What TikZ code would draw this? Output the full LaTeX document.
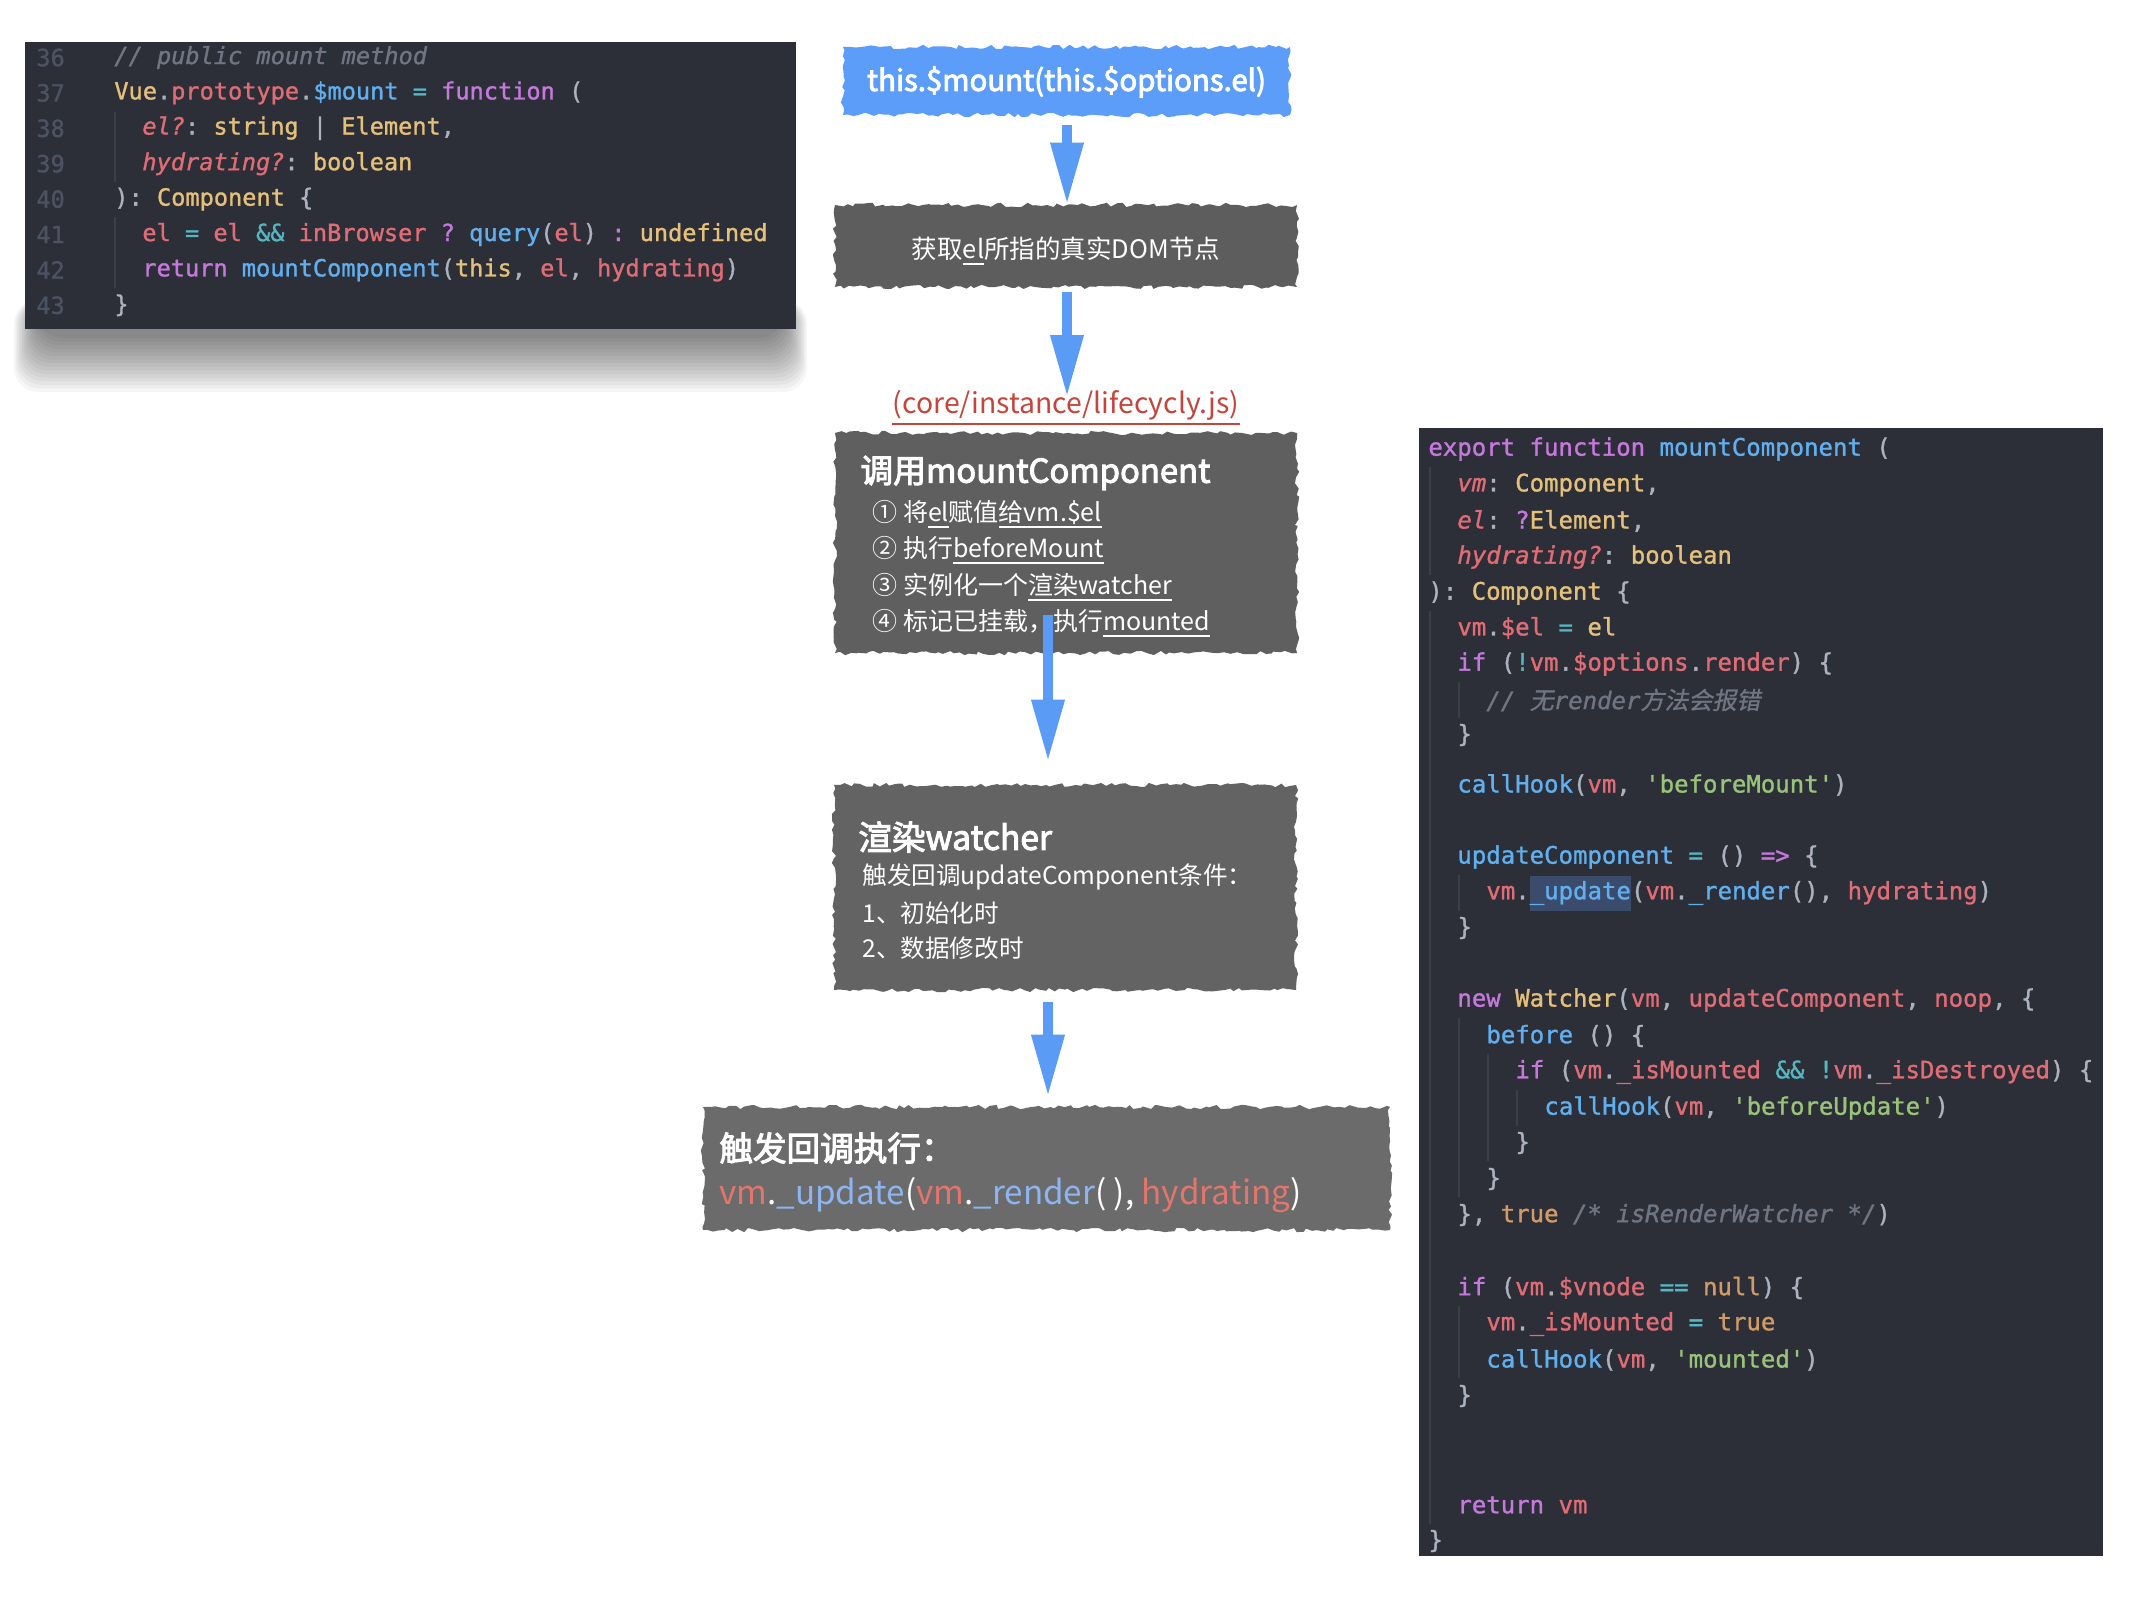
\documentclass[tikz,border=0pt]{standalone}
\usepackage{fontspec}
\usetikzlibrary{arrows.meta,decorations.pathmorphing}
\setmainfont{Noto Sans CJK SC}
\setmonofont{DejaVu Sans Mono}[FakeBold=1.2]
\newfontfamily\cjkit{Noto Sans CJK SC}[FakeSlant=0.2,FakeBold=1]
\newfontfamily\cjkmed{Noto Sans CJK SC}[FakeBold=3]
\definecolor{cbg}{HTML}{2C2F37}
\definecolor{ckwc}{HTML}{C678DD}
\definecolor{cfnc}{HTML}{61AFEF}
\definecolor{cvarc}{HTML}{E06C75}
\definecolor{ctyc}{HTML}{E5C07B}
\definecolor{cnumc}{HTML}{D19A66}
\definecolor{cstrc}{HTML}{98C379}
\definecolor{copc}{HTML}{56B6C2}
\definecolor{ccmc}{HTML}{6F7683}
\definecolor{cplc}{HTML}{ABB2BF}
\definecolor{clnc}{HTML}{4B5363}
\definecolor{cguide}{HTML}{3B4048}
\definecolor{csel}{HTML}{3A4B6C}
\definecolor{flowblue}{HTML}{5A9BF6}
\definecolor{boxblue}{HTML}{5B9DF9}
\definecolor{gboxa}{HTML}{5D5D5D}
\definecolor{gboxb}{HTML}{5F5F5F}
\definecolor{gboxc}{HTML}{636363}
\definecolor{gboxd}{HTML}{6B6B6B}
\definecolor{labelred}{HTML}{C4453C}
\definecolor{bred}{HTML}{E3756D}
\definecolor{bblue}{HTML}{8DB5F2}
\newcommand{\ckw}[1]{\textcolor{ckwc}{#1}}
\newcommand{\cfn}[1]{\textcolor{cfnc}{#1}}
\newcommand{\cvar}[1]{\textcolor{cvarc}{#1}}
\newcommand{\cty}[1]{\textcolor{ctyc}{#1}}
\newcommand{\cnum}[1]{\textcolor{cnumc}{#1}}
\newcommand{\cstr}[1]{\textcolor{cstrc}{#1}}
\newcommand{\cop}[1]{\textcolor{copc}{#1}}
\newcommand{\ccm}[1]{\textcolor{ccmc}{\itshape #1}}
\newcommand{\cpl}[1]{\textcolor{cplc}{#1}}
\newcommand{\myul}[1]{\leavevmode\setbox0=\hbox{#1}\rlap{\rule[-3.2pt]{\wd0}{0.8pt}}\box0}
\begin{document}
\begin{tikzpicture}[x=0.5pt,y=-0.5pt,
  codeR/.style={anchor=west,inner sep=0pt,font=\ttfamily\fontsize{12}{14}\selectfont,text=cplc},
  codeL/.style={anchor=west,inner sep=0pt,font=\ttfamily\fontsize{11.8}{14}\selectfont,text=cplc},
  lnum/.style={codeL,text=clnc},
  rough/.style={decorate,decoration={random steps,segment length=2.5pt,amplitude=1.1pt}},
  flowbox/.style={rough,inner sep=0pt,draw=none},
  flowarrow/.style={draw=flowblue,line width=5pt,-{Triangle[length=31pt,width=15.5pt]}},
  wtxt/.style={anchor=west,inner sep=0pt,text=white},
  guide/.style={draw=cguide,line width=0.6pt}
]
\pgfmathsetseed{7}
\useasboundingbox (0,0) rectangle (2133,1600);
\fill[white] (0,0) rectangle (2133,1600);

% ---------- left code panel ----------
\foreach \i in {0,...,15}{
  \fill[black,opacity=0.035,rounded corners=12pt] (14+\i*1.6,300) rectangle (807-\i*1.6,392-\i*3.6);
}
\node[fill=cbg,inner sep=0pt,minimum width=385.5pt,minimum height=143.5pt] (lp) at (410.5,185.5) {};
\draw[guide] (115,112) -- (115,182);
\draw[guide] (115,217) -- (115,288);
\node[lnum] (n36) at (36,57.5) {36};
\node[lnum] (n37) at (36,92.9) {37};
\node[lnum] (n38) at (36,128.3) {38};
\node[lnum] (n39) at (36,163.7) {39};
\node[lnum] (n40) at (36,199.1) {40};
\node[lnum] (n41) at (36,234.5) {41};
\node[lnum] (n42) at (36,269.9) {42};
\node[lnum] (n43) at (36,305.3) {43};
\node[codeL] (l36) at (114,57.5) {\ccm{// public mount method}};
\node[codeL] (l37) at (114,92.9) {\cty{Vue}\cpl{.}\cvar{prototype}\cpl{.}\cfn{\$mount} \cop{=} \ckw{function} \cpl{(}};
\node[codeL] (l38) at (142,128.3) {\cvar{\itshape el?}\cpl{:} \cty{string} \cpl{|} \cty{Element}\cpl{,}};
\node[codeL] (l39) at (142,163.7) {\cvar{\itshape hydrating?}\cpl{:} \cty{boolean}};
\node[codeL] (l40) at (114,199.1) {\cpl{):} \cty{Component} \cpl{\{}};
\node[codeL] (l41) at (142,234.5) {\cvar{el} \cop{=} \cvar{el} \cop{\&\&} \cvar{inBrowser} \ckw{?} \cfn{query}\cpl{(}\cvar{el}\cpl{)} \ckw{:} \cty{undefined}};
\node[codeL] (l42) at (142,269.9) {\ckw{return} \cfn{mountComponent}\cpl{(}\cty{this}\cpl{,} \cvar{el}\cpl{,} \cvar{hydrating}\cpl{)}};
\node[codeL] (l43) at (114,305.3) {\cpl{\}}};

% ---------- right code panel ----------
\node[fill=cbg,inner sep=0pt,minimum width=342pt,minimum height=564pt] (rp) at (1761,992) {};
\draw[guide] (1430,467) -- (1430,575);
\draw[guide] (1430,611) -- (1430,1524);
\draw[guide] (1459,682) -- (1459,718);
\draw[guide] (1459,875) -- (1459,911);
\draw[guide] (1459,1018) -- (1459,1197);
\draw[guide] (1459,1306) -- (1459,1378);
\draw[guide] (1488,1054) -- (1488,1161);
\draw[guide] (1517,1090) -- (1517,1126);
\fill[csel] (1530,876) rectangle (1631,911);
\node[codeR] (r1) at (1428,449) {\ckw{export} \ckw{function} \cfn{mountComponent} \cpl{(}};
\node[codeR] (r2) at (1457,485) {\cvar{\itshape vm}\cpl{:} \cty{Component}\cpl{,}};
\node[codeR] (r3) at (1457,521) {\cvar{\itshape el}\cpl{:} \ckw{?}\cty{Element}\cpl{,}};
\node[codeR] (r4) at (1457,557) {\cvar{\itshape hydrating?}\cpl{:} \cty{boolean}};
\node[codeR] (r5) at (1428,593) {\cpl{):} \cty{Component} \cpl{\{}};
\node[codeR] (r6) at (1457,628) {\cvar{vm}\cpl{.}\cvar{\$el} \cop{=} \cty{el}};
\node[codeR] (r7) at (1457,664) {\ckw{if} \cpl{(}\cop{!}\cvar{vm}\cpl{.}\cvar{\$options}\cpl{.}\cvar{render}\cpl{) \{}};
\node[codeR] (r8) at (1486,700) {\ccm{// {\cjkit 无}render{\cjkit 方法会报错}}};
\node[codeR] (r9) at (1457,735) {\cpl{\}}};
\node[codeR] (r10) at (1457,785) {\cfn{callHook}\cpl{(}\cvar{vm}\cpl{,} \cstr{'beforeMount'}\cpl{)}};
\node[codeR] (r11) at (1457,857) {\cfn{updateComponent} \cop{=} \cpl{()} \ckw{=>} \cpl{\{}};
\node[codeR] (r12) at (1486,893) {\cvar{vm}\cpl{.}\cfn{\_update}\cpl{(}\cvar{vm}\cpl{.}\cfn{\_render}\cpl{(),} \cvar{hydrating}\cpl{)}};
\node[codeR] (r13) at (1457,928) {\cpl{\}}};
\node[codeR] (r14) at (1457,1000) {\ckw{new} \cty{Watcher}\cpl{(}\cvar{vm}\cpl{,} \cvar{updateComponent}\cpl{,} \cvar{noop}\cpl{, \{}};
\node[codeR] (r15) at (1486,1036) {\cfn{before} \cpl{() \{}};
\node[codeR] (r16) at (1515,1072) {\ckw{if} \cpl{(}\cvar{vm}\cpl{.}\cvar{\_isMounted} \cop{\&\&} \cop{!}\cvar{vm}\cpl{.}\cvar{\_isDestroyed}\cpl{) \{}};
\node[codeR] (r17) at (1544,1108) {\cfn{callHook}\cpl{(}\cvar{vm}\cpl{,} \cstr{'beforeUpdate'}\cpl{)}};
\node[codeR] (r18) at (1515,1143) {\cpl{\}}};
\node[codeR] (r19) at (1486,1179) {\cpl{\}}};
\node[codeR] (r20) at (1457,1215) {\cpl{\},} \cnum{true} \ccm{/* isRenderWatcher */}\cpl{)}};
\node[codeR] (r21) at (1457,1288) {\ckw{if} \cpl{(}\cvar{vm}\cpl{.}\cvar{\$vnode} \cop{==} \cnum{null}\cpl{) \{}};
\node[codeR] (r22) at (1486,1324) {\cvar{vm}\cpl{.}\cvar{\_isMounted} \cop{=} \cnum{true}};
\node[codeR] (r23) at (1486,1360) {\cfn{callHook}\cpl{(}\cvar{vm}\cpl{,} \cstr{'mounted'}\cpl{)}};
\node[codeR] (r24) at (1457,1396) {\cpl{\}}};
\node[codeR] (r25) at (1457,1505) {\ckw{return} \cvar{vm}};
\node[codeR] (r26) at (1428,1541) {\cpl{\}}};

% ---------- flow boxes ----------
\node[flowbox,fill=boxblue,minimum width=223.5pt,minimum height=34pt] (b0) at (1066.5,81) {};
\node[font=\cjkmed\fontsize{14.7}{16}\selectfont,text=white,inner sep=0pt] (t0) at (1066.5,82) {this.\$mount(this.\$options.el)};

\node[flowbox,fill=gboxa,minimum width=231pt,minimum height=41pt] (b1) at (1066,246) {};
\node[font=\fontsize{12.75}{15}\selectfont,text=white,inner sep=0pt] (t1) at (1066,251) {获取\myul{el}所指的真实DOM节点};

\node[font=\fontsize{14.2}{16}\selectfont,text=labelred,inner sep=0pt] (lbl) at (1066,405) {(core/instance/lifecycly.js)};
\draw[labelred,line width=0.6pt] (lbl.west |- 0,424) coordinate (ulA) -- (lbl.east |- 0,424) coordinate (ulB);

\node[flowbox,fill=gboxb,minimum width=231pt,minimum height=110pt] (b2) at (1066,543) {};
\node[wtxt,font=\cjkmed\fontsize{16.4}{20}\selectfont] (t2) at (860,473) {调用mountComponent};
\node[wtxt,font=\fontsize{12.5}{15}\selectfont] (t2a) at (872,514) {① 将\myul{el}赋值\myul{给vm.\$el}};
\node[wtxt,font=\fontsize{12.5}{15}\selectfont] (t2b) at (872,550) {② 执行\myul{beforeMount}};
\node[wtxt,font=\fontsize{12.5}{15}\selectfont] (t2c) at (872,587) {③ 实例化一个\myul{渲染watcher}};
\node[wtxt,font=\fontsize{12.5}{15}\selectfont] (t2d) at (872,623) {④ 标记已挂载，执行\myul{mounted}};

\node[flowbox,fill=gboxc,minimum width=231pt,minimum height=102.5pt] (b3) at (1065,887.5) {};
\node[wtxt,font=\cjkmed\fontsize{16.8}{19}\selectfont] (t3) at (858,837) {渲染watcher};
\node[wtxt,font=\fontsize{12.3}{14}\selectfont] (t3a) at (862,877) {触发回调updateComponent条件：};
\node[wtxt,font=\fontsize{12.3}{14}\selectfont] (t3b) at (862,913) {1、初始化时};
\node[wtxt,font=\fontsize{12.3}{14}\selectfont] (t3c) at (862,948) {2、数据修改时};

\node[flowbox,fill=gboxd,minimum width=343.5pt,minimum height=61.5pt] (b4) at (1046.5,1168.5) {};
\node[wtxt,font=\cjkmed\fontsize{16.8}{19}\selectfont] (t4) at (719,1148) {触发回调执行：};
\node[wtxt,font=\fontsize{16.6}{19}\selectfont] (t4a) at (719,1195) {\textcolor{bred}{vm}.\textcolor{bblue}{\_update}(\textcolor{bred}{vm}.\textcolor{bblue}{\_render}( ), \textcolor{bred}{hydrating})};

% ---------- connectors ----------
\coordinate (a2end) at (1067,397);
\coordinate (a3start) at (1048,615);
\draw[flowarrow,shorten <=5pt] (b0.south -| 1067,0) -- (b1.north -| 1067,0);
\draw[flowarrow,shorten <=2.5pt] (b1.south -| 1067,0) -- (a2end);
\draw[flowarrow,shorten >=11.5pt] (a3start) -- (b3.north -| 1048,0);
\draw[flowarrow,shorten <=6pt,shorten >=5pt] (b3.south -| 1048,0) -- (b4.north -| 1048,0);
\end{tikzpicture}
\end{document}
